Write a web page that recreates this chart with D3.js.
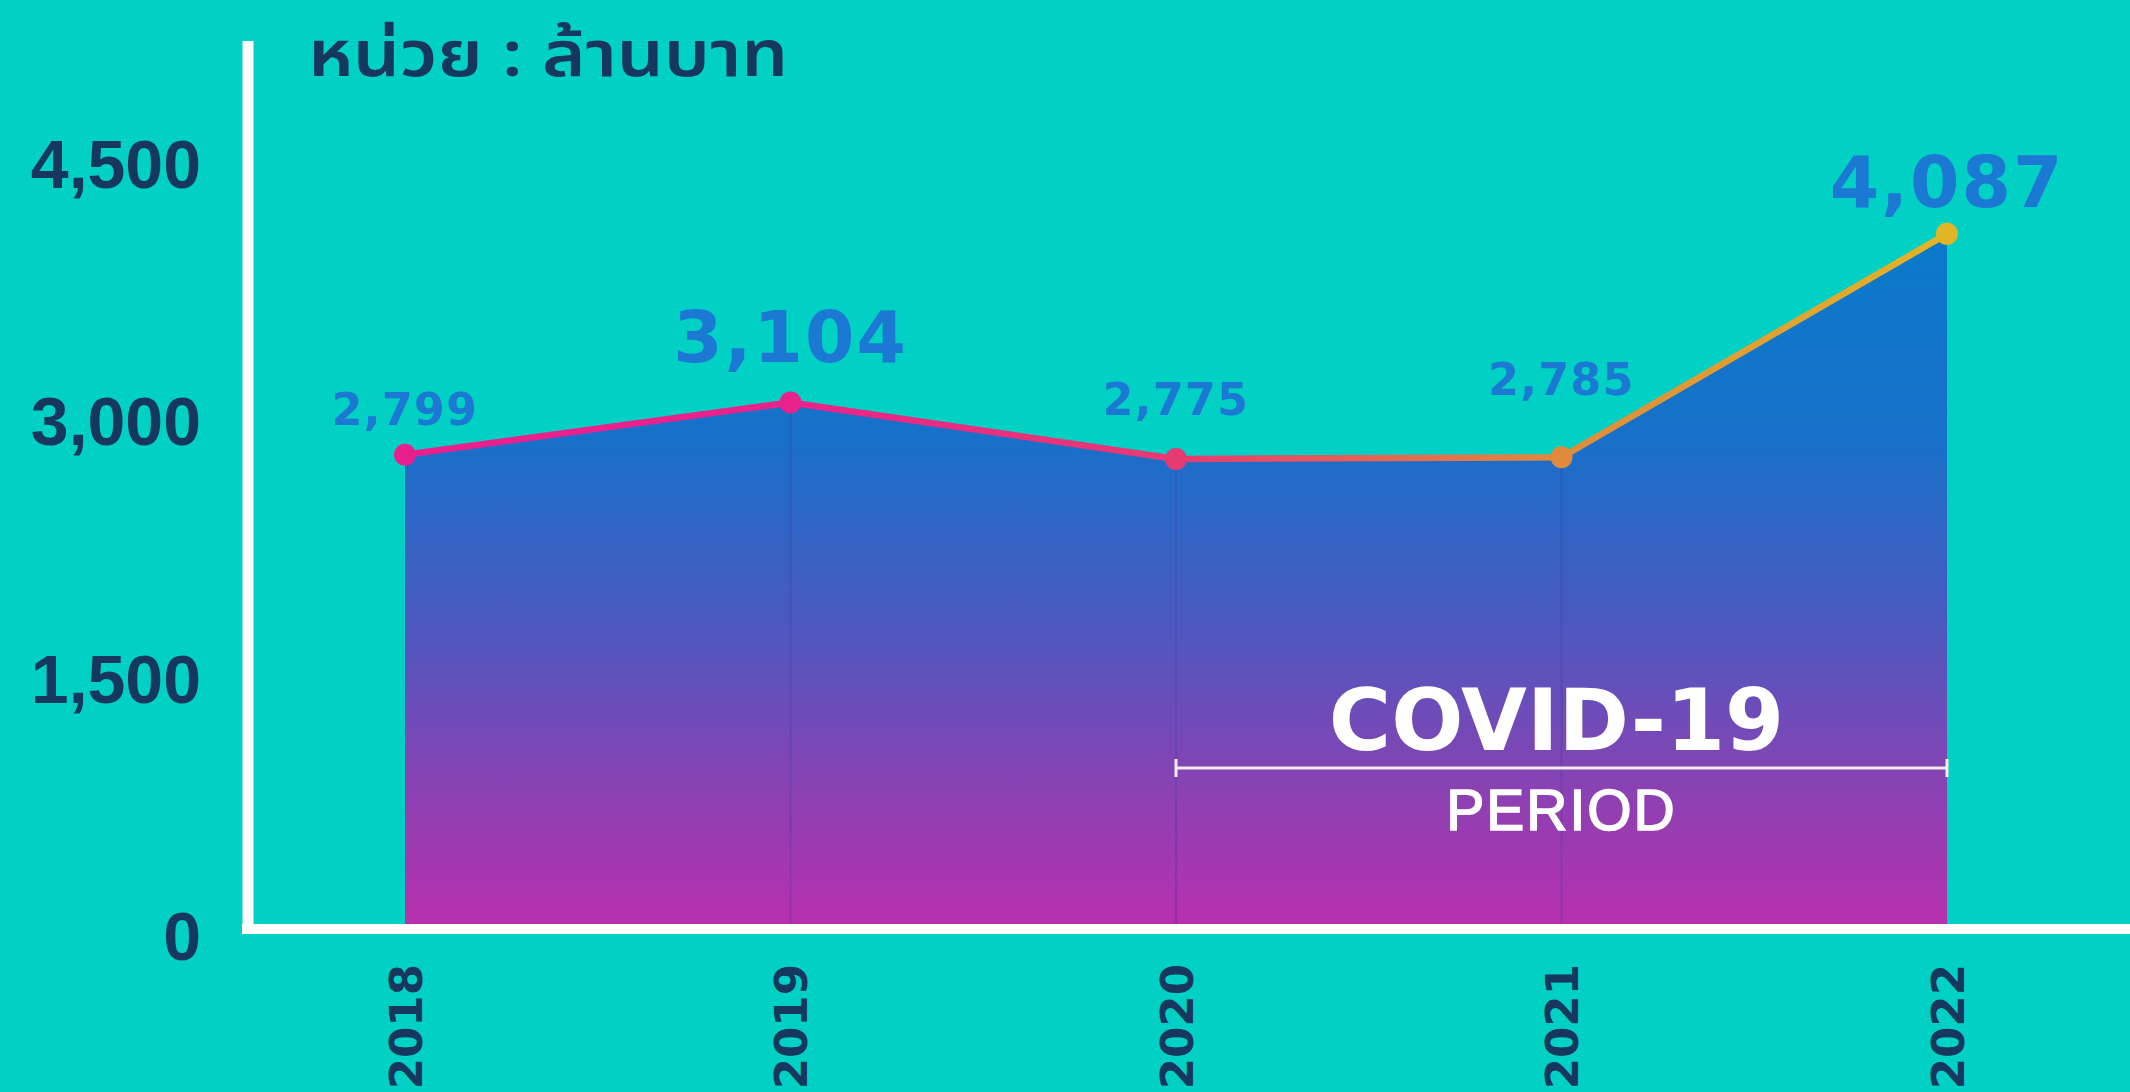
<!doctype html>
<html>
    <head>
        <meta charset="utf-8">
        <script src="https://cdn.jsdelivr.net/npm/d3@7/dist/d3.min.js"></script>
        <style>
            html, body {
                margin: 0;
                padding: 0;
                background: #01d1c4;
                overflow: hidden;
            }
            #viz {
                position: absolute;
                top: 0px;
                left: 0px;
                width: 2130px;
                height: 1092px;
            }
        </style>
    </head>
    <body>
        <div id="viz"></div>
        <script>
            // chart data
            var years = ["2018", "2019", "2020", "2021", "2022"];
            var revenue = [2799, 3104, 2775, 2785, 4087];
            var yTicks = [0, 1500, 3000, 4500];
            var bigLabels = ["2019", "2022"];
            var unitLabel = "หน่วย : ล้านบาท";
            var covidFrom = "2020";
            var covidTo = "2022";

            var w = 2130;
            var h = 1092;

            var navy = "#16385f";
            var labelBlue = "#1b78d3";

            var svg = d3.select("#viz").append("svg")
                .attr("width", w)
                .attr("height", h);

            var x = d3.scalePoint()
                .domain(years)
                .range([405, 1947]);

            var y = d3.scaleLinear()
                .domain([0, 4500])
                .range([935, 163]);

            var data = years.map(function (d, i) {
                return { year: d, value: revenue[i] };
            });

            // colour of the line / dots along x
            var lineColor = d3.scaleLinear()
                .domain([x("2018"), x("2019"), x("2020"), x("2021"), x("2022")])
                .range(["#ea1f8e", "#ea228c", "#e83a72", "#e08b3b", "#e2b526"]);

            var defs = svg.append("defs");

            var areaGrad = defs.append("linearGradient")
                .attr("id", "areaGrad")
                .attr("gradientUnits", "userSpaceOnUse")
                .attr("x1", 0).attr("x2", 0)
                .attr("y1", y(4100)).attr("y2", y(0));
            areaGrad.selectAll("stop")
                .data([
                    [0, "#0a7acb"],
                    [0.3, "#1870c9"],
                    [0.55, "#4a59c0"],
                    [0.78, "#8743b3"],
                    [1, "#bb2eae"]
                ])
                .enter().append("stop")
                .attr("offset", function (d) { return d[0]; })
                .attr("stop-color", function (d) { return d[1]; });

            var lineGrad = defs.append("linearGradient")
                .attr("id", "lineGrad")
                .attr("gradientUnits", "userSpaceOnUse")
                .attr("x1", x("2018")).attr("x2", x("2022"))
                .attr("y1", 0).attr("y2", 0);
            lineGrad.selectAll("stop")
                .data(years)
                .enter().append("stop")
                .attr("offset", function (d) {
                    return (x(d) - x("2018")) / (x("2022") - x("2018"));
                })
                .attr("stop-color", function (d) { return lineColor(x(d)); });

            // area
            var area = d3.area()
                .x(function (d) { return x(d.year); })
                .y0(y(0) - 6)
                .y1(function (d) { return y(d.value); });

            svg.append("path")
                .datum(data)
                .attr("d", area)
                .attr("fill", "url(#areaGrad)");

            // faint year dividers inside the area
            svg.selectAll(".divider")
                .data(data.slice(1, -1))
                .enter().append("line")
                .attr("class", "divider")
                .attr("x1", function (d) { return x(d.year); })
                .attr("x2", function (d) { return x(d.year); })
                .attr("y1", function (d) { return y(d.value); })
                .attr("y2", y(0) - 6)
                .attr("stroke", "#3a3a9a")
                .attr("stroke-opacity", 0.3)
                .attr("stroke-width", 2);

            // covid period bracket
            var by = 768;
            var bracket = svg.append("g")
                .attr("stroke", "#f4e9f4")
                .attr("stroke-width", 3);
            bracket.append("line")
                .attr("x1", x(covidFrom)).attr("x2", x(covidTo))
                .attr("y1", by).attr("y2", by);
            bracket.selectAll(".cap")
                .data([covidFrom, covidTo])
                .enter().append("line")
                .attr("x1", function (d) { return x(d); })
                .attr("x2", function (d) { return x(d); })
                .attr("y1", by - 9).attr("y2", by + 9);

            var midCovid = (x(covidFrom) + x(covidTo)) / 2;
            svg.append("text")
                .attr("x", midCovid - 5)
                .attr("y", 750)
                .attr("text-anchor", "middle")
                .attr("fill", "#ffffff")
                .style("font-family", "'DejaVu Sans', sans-serif")
                .style("font-weight", "bold")
                .style("font-size", "85px")
                .text("COVID-19");
            svg.append("text")
                .attr("x", midCovid)
                .attr("y", 830)
                .attr("text-anchor", "middle")
                .attr("fill", "#ffffff")
                .attr("stroke", "#ffffff")
                .attr("stroke-width", 1.6)
                .style("font-family", "'Liberation Sans', Arial, sans-serif")
                .style("font-size", "57px")
                .style("letter-spacing", "2px")
                .text("PERIOD");

            // line + dots
            var line = d3.line()
                .x(function (d) { return x(d.year); })
                .y(function (d) { return y(d.value); });

            svg.append("path")
                .datum(data)
                .attr("d", line)
                .attr("fill", "none")
                .attr("stroke", "url(#lineGrad)")
                .attr("stroke-width", 6.5)
                .attr("stroke-linejoin", "round");

            svg.selectAll(".dot")
                .data(data)
                .enter().append("circle")
                .attr("class", "dot")
                .attr("cx", function (d) { return x(d.year); })
                .attr("cy", function (d) { return y(d.value); })
                .attr("r", 11)
                .attr("fill", function (d) { return lineColor(x(d.year)); });

            // value labels (lift above the dot)
            var lift = [30, 40, 44, 62, 27];
            svg.selectAll(".val")
                .data(data)
                .enter().append("text")
                .attr("class", "val")
                .attr("x", function (d) { return x(d.year); })
                .attr("y", function (d, i) { return y(d.value) - lift[i]; })
                .attr("text-anchor", "middle")
                .attr("fill", labelBlue)
                .style("font-family", "'DejaVu Sans', sans-serif")
                .style("font-weight", "bold")
                .style("font-size", function (d) {
                    return bigLabels.indexOf(d.year) >= 0 ? "71px" : "44px";
                })
                .style("letter-spacing", function (d) {
                    return bigLabels.indexOf(d.year) >= 0 ? "2px" : "1.5px";
                })
                .text(function (d) { return d3.format(",")(d.value); });

            // axis lines
            svg.append("line")
                .attr("x1", 248).attr("x2", 248)
                .attr("y1", 41).attr("y2", y(0) - 1)
                .attr("stroke", "#ffffff")
                .attr("stroke-width", 11);
            svg.append("line")
                .attr("x1", 242).attr("x2", w)
                .attr("y1", y(0) - 6).attr("y2", y(0) - 6)
                .attr("stroke", "#ffffff")
                .attr("stroke-width", 10);

            // y axis labels
            var yAxis = svg.append("g")
                .attr("transform", "translate(201,0)")
                .call(d3.axisLeft(y)
                    .tickValues(yTicks)
                    .tickFormat(d3.format(","))
                    .tickSize(0)
                    .tickPadding(0));
            yAxis.select(".domain").remove();
            yAxis.selectAll("text")
                .attr("fill", navy)
                .attr("dy", "0.36em")
                .style("font-family", "'Liberation Sans', Arial, sans-serif")
                .style("font-weight", "bold")
                .style("font-size", "68px");

            // x axis labels, rotated
            var xAxis = svg.append("g")
                .attr("transform", "translate(0,964)")
                .call(d3.axisBottom(x).tickSize(0).tickPadding(0));
            xAxis.select(".domain").remove();
            xAxis.selectAll("text")
                .attr("x", 0)
                .attr("y", 0)
                .attr("dy", "0.36em")
                .attr("transform", "rotate(-90)")
                .attr("fill", navy)
                .style("text-anchor", "end")
                .style("font-family", "'DejaVu Sans', sans-serif")
                .style("font-weight", "bold")
                .style("font-size", "45px");

            // unit label
            svg.append("text")
                .attr("x", 308)
                .attr("y", 76)
                .attr("fill", navy)
                .attr("textLength", 480)
                .attr("lengthAdjust", "spacingAndGlyphs")
                .style("font-family", "'Noto Sans Thai', 'Noto Sans', sans-serif")
                .style("font-weight", "600")
                .style("font-size", "64px")
                .text(unitLabel);
        </script>
    </body>
</html>
